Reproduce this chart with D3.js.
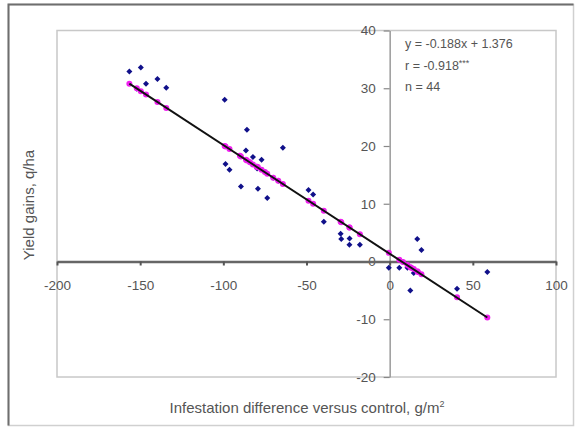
<!DOCTYPE html>
<html>
<head>
<meta charset="utf-8">
<script src="https://cdn.jsdelivr.net/npm/d3@7"></script>
<style>
  body { margin: 0; background: #fff; }
  svg { display: block; }
</style>
</head>
<body>
<div id="root"></div>
<script>
const svgWidth = 575;
const svgHeight = 429;

// observed yield gains (blue diamonds)
const obsX = [-156.5, -149.6, -146.5, -139.6, -134.3, -99.2, -98.7, -96.3, -89.4, -85.8,
  -86.4, -82.2, -77.0, -79.7, -79.2, -73.6, -64.2, -48.8, -46.0, -39.6,
  -29.5, -29.1, -24.1, -24.2, -17.9, -0.5, 5.8, 12.4, 16.6, 19.1,
  14.5, 10.7, 40.5, 58.7, -152, -90, -84, -80, -75, -70,
  -67, 8, 13, 17];
const obsY = [32.9, 33.6, 30.8, 31.6, 30.1, 28.0, 16.9, 15.9, 13.0, 22.8,
  19.2, 18.1, 17.6, 16.1, 12.6, 11.0, 19.7, 12.4, 11.6, 6.9,
  4.8, 3.9, 4.0, 2.9, 2.9, -1.1, -1.1, -5.0, 3.9, 2.0,
  -2.0, -1.1, -4.7, -1.8, 29.9, 18.3, 17.2, 16.4, 15.5, 14.5,
  14.0, -0.1, -1.1, -1.8];

// predicted values on the regression line (magenta)
const predY = [30.8, 29.5, 28.9, 27.6, 26.6, 20.0, 19.9, 19.5, 18.2, 17.5,
  17.6, 16.8, 15.9, 16.4, 16.3, 15.2, 13.4, 10.5, 10.0, 8.8,
  6.9, 6.8, 5.9, 5.9, 4.7, 1.5, 0.3, -1.0, -1.7, -2.2,
  -1.3, -0.6, -6.2, -9.7, 30.0, 18.3, 17.2, 16.4, 15.5, 14.5,
  14.0, -0.1, -1.1, -1.8];

// trend line end points
const trendX = [-156.5, 58.7];
const trendY = [30.8, -9.7];

const xTicks = [-200, -150, -100, -50, 0, 50, 100];
const yTicks = [-20, -10, 0, 10, 20, 30, 40];

const statsLines = ["y = -0.188x + 1.376", "r = -0.918", "n = 44"];

const font = "'Liberation Sans', Arial, sans-serif";
const textColor = "#555";

const xScale = d3.scaleLinear().domain([-200, 100]).range([57, 556]);
const yScale = d3.scaleLinear().domain([-20, 40]).range([377, 30.5]);

const svg = d3.select("#root")
  .append("svg")
  .attr("width", svgWidth)
  .attr("height", svgHeight);

// chart area frame
svg.append("rect")
  .attr("x", 8.5).attr("y", 4.5)
  .attr("width", 565).attr("height", 421)
  .attr("fill", "#fff")
  .attr("stroke", "#d0d0d0")
  .attr("stroke-width", 1.5);
svg.append("path")
  .attr("d", "M8.5,425.5 V4.5 H573.5")
  .attr("fill", "none")
  .attr("stroke", "#6e6e6e")
  .attr("stroke-width", 2);

// plot area frame
svg.append("rect")
  .attr("x", xScale(-200)).attr("y", yScale(40))
  .attr("width", xScale(100) - xScale(-200))
  .attr("height", yScale(-20) - yScale(40))
  .attr("fill", "none")
  .attr("stroke", "#c8c8c8")
  .attr("stroke-width", 1.5);

// y axis (crosses at x = 0)
const yAxis = svg.append("g")
  .attr("transform", `translate(${xScale(0)},0)`)
  .call(d3.axisLeft(yScale).tickValues(yTicks).tickSize(6).tickSizeOuter(0)
    .tickPadding(8).tickFormat(d => String(d)));
yAxis.select(".domain").attr("stroke", "#9a9a9a").attr("stroke-width", 1.5);
yAxis.selectAll(".tick line").attr("stroke", "#888").attr("stroke-width", 1.2);

// x axis (crosses at y = 0)
const xAxis = svg.append("g")
  .attr("transform", `translate(0,${yScale(0)})`)
  .call(d3.axisBottom(xScale).tickValues(xTicks).tickSize(4).tickSizeOuter(0)
    .tickPadding(15).tickFormat(d => String(d)));
xAxis.select(".domain").attr("stroke", "#666").attr("stroke-width", 2.5);
xAxis.selectAll(".tick line").attr("stroke", "#555").attr("stroke-width", 2);

svg.selectAll(".tick text")
  .attr("fill", textColor)
  .attr("font-family", font)
  .attr("font-size", "13.5px");

// observed points (small squares turned 45 degrees)
const diamond = d3.symbol().type(d3.symbolSquare).size(18);
svg.append("g")
  .selectAll("path")
  .data(obsX)
  .join("path")
  .attr("d", diamond)
  .attr("transform", (d, i) => `translate(${xScale(d)},${yScale(obsY[i])}) rotate(45)`)
  .attr("fill", "#10108a");

// predicted points
svg.append("g")
  .selectAll("circle")
  .data(obsX)
  .join("circle")
  .attr("cx", d => xScale(d))
  .attr("cy", (d, i) => yScale(predY[i]))
  .attr("r", 3)
  .attr("fill", "#f020f0");

// trend line
svg.append("path")
  .datum(trendX)
  .attr("d", d3.line().x(d => xScale(d)).y((d, i) => yScale(trendY[i])))
  .attr("fill", "none")
  .attr("stroke", "#111")
  .attr("stroke-width", 2);

// stats text
const stats = svg.append("g")
  .attr("font-family", font)
  .attr("font-size", "12.5px")
  .attr("fill", textColor);
const baselines = [48, 69.5, 91];
statsLines.forEach((s, i) => {
  const t = stats.append("text").attr("x", 405).attr("y", baselines[i]).text(s);
  if (i === 1) t.append("tspan").attr("font-size", "9px").attr("dy", -4).text("***");
});

// axis titles
svg.append("text")
  .attr("x", 307).attr("y", 413)
  .attr("text-anchor", "middle")
  .attr("font-family", font)
  .attr("font-size", "15px")
  .attr("fill", textColor)
  .text("Infestation difference versus control, g/m")
  .append("tspan").attr("font-size", "9px").attr("dy", -6).text("2");

svg.append("text")
  .attr("transform", "translate(34,205) rotate(-90)")
  .attr("text-anchor", "middle")
  .attr("font-family", font)
  .attr("font-size", "15px")
  .attr("fill", textColor)
  .text("Yield gains, q/ha");
</script>
</body>
</html>
